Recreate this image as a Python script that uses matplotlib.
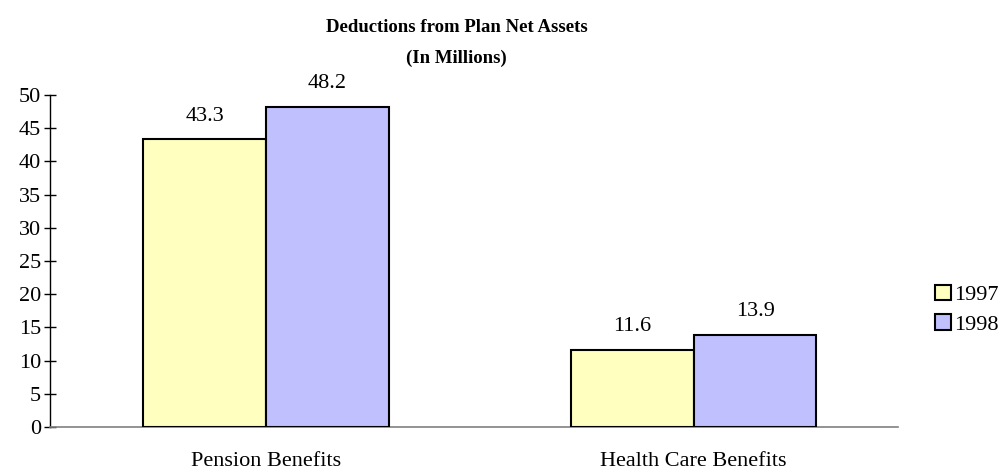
import matplotlib.pyplot as plt
import numpy as np

# Chart data
categories = ["Pension Benefits", "Health Care Benefits"]
years = ["1997", "1998"]
values_1997 = [43.3, 11.6]
values_1998 = [48.2, 13.9]
yticks = list(range(0, 55, 5))

plt.rcParams["font.family"] = ["Liberation Serif", "DejaVu Serif"]

fig = plt.figure(figsize=(10.08, 4.73), dpi=100)
ax = fig.add_axes([0.0496, 0.0973, 0.841, 0.702])

x = np.arange(len(categories))
w = 0.287
colors = ["#FFFFC0", "#C0C0FF"]
for i, (vals, yr) in enumerate(zip([values_1997, values_1998], years)):
    bars = ax.bar(x + (i - 0.5) * w, vals, width=w, color=colors[i],
                  edgecolor="black", linewidth=1.5, label=yr, zorder=3)
    for b, v in zip(bars, vals):
        ax.annotate(f"{v}", (b.get_x() + b.get_width() / 2, v),
                    xytext=(0, 10), textcoords="offset points",
                    ha="center", va="bottom", fontsize=16)

ax.set_xlim(-0.505, 1.477)
ax.set_ylim(0, 50)
ax.set_yticks(yticks)
ax.set_xticks(x)
ax.set_xticklabels(categories, fontsize=16)
ax.tick_params(axis="x", length=0, pad=18)
ax.tick_params(axis="y", direction="inout", length=9, width=1, labelsize=16, pad=2)
for s in ["top", "right"]:
    ax.spines[s].set_visible(False)
ax.spines["left"].set_linewidth(1)
ax.spines["bottom"].set_color("#808080")
ax.spines["bottom"].set_linewidth(1.2)

fig.text(0.453, 1 - 27 / 473, "Deductions from Plan Net Assets",
         ha="center", va="center", fontsize=13.5, fontweight="bold")
fig.text(0.453, 1 - 58 / 473, "(In Millions)",
         ha="center", va="center", fontsize=13.5, fontweight="bold")

leg = fig.legend(loc="center left", bbox_to_anchor=(0.928, 0.345), frameon=False,
                 fontsize=16, handlelength=0.7, handleheight=0.7, borderpad=0,
                 borderaxespad=0, handletextpad=0.15, labelspacing=0.4)

fig.savefig("out.png", dpi=100)
